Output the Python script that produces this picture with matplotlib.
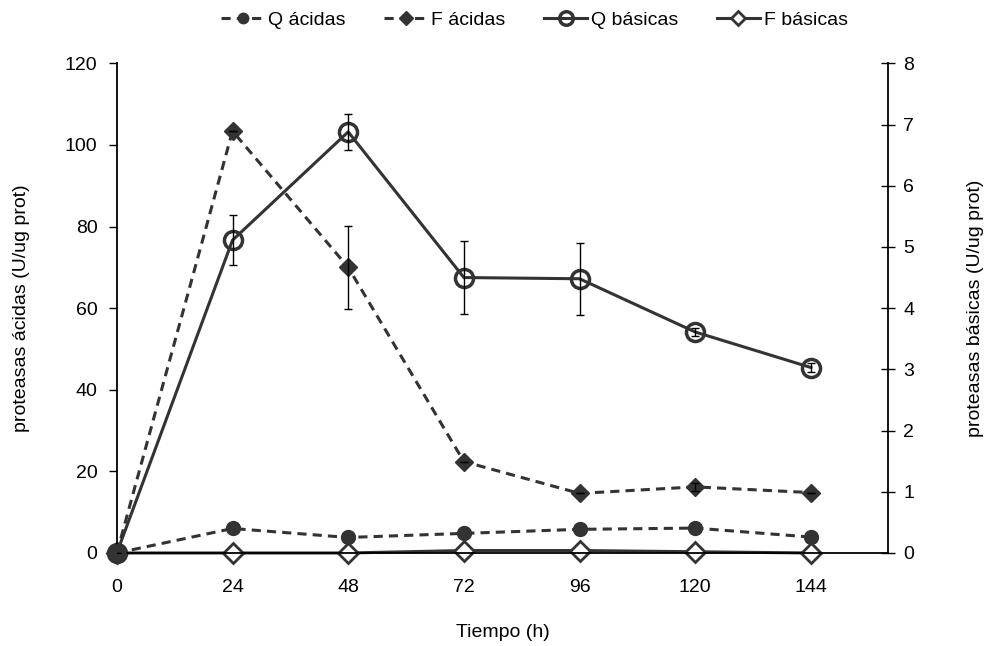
import matplotlib.pyplot as plt

plt.rcParams['font.family'] = ['Liberation Sans', 'DejaVu Sans']

tiempo = [0, 24, 48, 72, 96, 120, 144]

# proteasas ácidas (eje izquierdo)
q_acidas = [0, 6.0, 3.8, 4.8, 5.8, 6.1, 3.9]
f_acidas = [0, 103.4, 70.0, 22.4, 14.6, 16.2, 14.8]
f_acidas_err = [0, 0, 10.2, 0, 0, 1.0, 0]

# proteasas básicas (eje derecho)
q_basicas = [0, 5.11, 6.88, 4.50, 4.48, 3.61, 3.03]
q_basicas_err = [0, 0.41, 0.29, 0.59, 0.59, 0.07, 0.07]
f_basicas = [0, 0, 0, 0.04, 0.04, 0.02, 0]

color = '#333333'

fig = plt.figure(figsize=(9.9, 6.46), dpi=100)
ax = fig.add_axes([0.118, 0.144, 0.779, 0.758])
ax2 = ax.twinx()
# series ácidas por encima de las básicas
ax.set_zorder(ax2.get_zorder() + 1)
ax.patch.set_visible(False)

l1, = ax.plot(tiempo, q_acidas, '--', color=color, lw=2.2, dashes=(3, 2),
              marker='o', ms=10, mfc=color, mec=color, label='Q ácidas',
              zorder=3, clip_on=False)
ax.errorbar(tiempo, f_acidas, yerr=f_acidas_err, fmt='none', ecolor='black',
            elinewidth=1, capsize=3, zorder=4)
l2, = ax.plot(tiempo, f_acidas, '--', color=color, lw=2.2, dashes=(3, 2),
              marker='D', ms=9, mfc=color, mec=color, label='F ácidas',
              zorder=3, clip_on=False)

ax2.errorbar(tiempo, q_basicas, yerr=q_basicas_err, fmt='none', ecolor='black',
             elinewidth=1, capsize=3, zorder=4)
l3, = ax2.plot(tiempo, q_basicas, '-', color=color, lw=2.2, marker='o', ms=13,
               mfc='none', mec=color, mew=2.5, label='Q básicas',
               zorder=3, clip_on=False)
l4, = ax2.plot(tiempo, f_basicas, '-', color=color, lw=2.2, marker='D', ms=10,
               mfc='white', mec=color, mew=2, label='F básicas',
               zorder=3, clip_on=False)

ax.set_xlim(0, 160)
ax.set_ylim(0, 120)
ax2.set_ylim(0, 8)
ax.set_xticks(tiempo)
ax.set_yticks(range(0, 121, 20))
ax2.set_yticks(range(0, 9))

for a in (ax, ax2):
    a.spines['top'].set_visible(False)
ax2.patch.set_visible(False)
ax.spines['right'].set_visible(False)
ax2.spines['left'].set_visible(False)
ax2.spines['bottom'].set_visible(False)
for sp in ('left', 'bottom'):
    ax.spines[sp].set_linewidth(1.3)
ax2.spines['right'].set_linewidth(1.3)

ax.tick_params(axis='x', length=0, labelsize=14, pad=19)
ax.tick_params(axis='y', direction='out', length=6, width=1, labelsize=14, pad=8)
ax2.tick_params(axis='y', direction='inout', length=10, width=1, labelsize=14, pad=6)

ax.set_xlabel('Tiempo (h)', fontsize=14, labelpad=20)
ax.set_ylabel('proteasas ácidas (U/ug prot)', fontsize=14, labelpad=25)
ax2.set_ylabel('proteasas básicas (U/ug prot)', fontsize=14, labelpad=38)

fig.legend(handles=[l1, l2, l3, l4], loc='upper center', ncol=4, frameon=False,
           fontsize=14, bbox_to_anchor=(0.54, 1.01), handlelength=2.2,
           handletextpad=0.2, columnspacing=2.0, markerscale=0.75)

fig.savefig('out.png', dpi=100)
